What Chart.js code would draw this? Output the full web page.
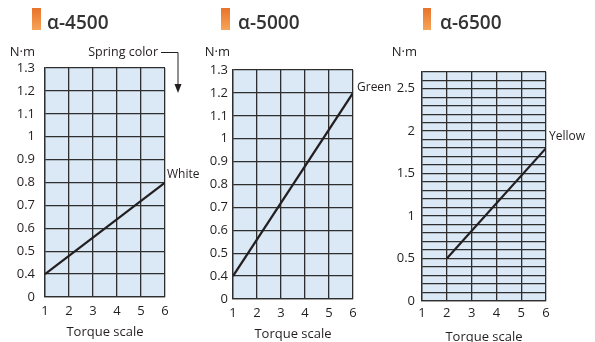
<!DOCTYPE html>
<html>
<head>
<meta charset="utf-8">
<script src="https://cdn.jsdelivr.net/npm/chart.js@4.4.0/dist/chart.umd.min.js"></script>
<style>
  body { margin: 0; background: #fff; width: 595px; height: 342px; position: relative; overflow: hidden; }
  canvas { position: absolute; top: 0; }
</style>
</head>
<body>
<canvas id="c1" width="210" height="342" style="left:0"></canvas>
<canvas id="c2" width="210" height="342" style="left:195px"></canvas>
<canvas id="c3" width="205" height="342" style="left:390px"></canvas>
<script>
// data
const torqueScale = [1, 2, 3, 4, 5, 6];
const brokenTicks = [0, 0.4, 0.5, 0.6, 0.7, 0.8, 0.9, 1, 1.1, 1.2, 1.3];
const a6500Ticks = [0, 0.5, 1, 1.5, 2, 2.5];

const a4500Scale = [1, 6];
const a4500Torque = [0.4, 0.8];
const a5000Scale = [1, 6];
const a5000Torque = [0.4, 1.2];
const a6500Scale = [2, 6];
const a6500Torque = [0.5, 1.8];

const FONT = "'Open Sans', sans-serif";
const INK = '#231f20';
const GRID = '#2e2e2e';
const FILL = '#dbe8f5';

// broken axis: 0 then 0.4 .. 1.3, every step the same height
function slot(v) {
  return v <= 0 ? 0 : 1 + Math.round((v - 0.4) * 100) / 10;
}

function points(xs, ys, broken) {
  return xs.map((x, i) => ({ x: x, y: broken ? slot(ys[i]) : ys[i] }));
}

// draws the panel background, header, unit and the spring label
const decor = {
  id: 'decor',
  beforeDraw(chart, args, o) {
    const a = chart.chartArea, ctx = chart.ctx;
    ctx.save();
    ctx.fillStyle = FILL;
    ctx.fillRect(a.left, a.top, a.right - a.left, a.bottom - a.top);
    ctx.restore();
  },
  afterDraw(chart, args, o) {
    const ctx = chart.ctx;
    ctx.save();
    // header
    const g = ctx.createLinearGradient(0, o.rect[1], 0, o.rect[1] + o.rect[3]);
    g.addColorStop(0, '#e8732b');
    g.addColorStop(1, '#f6a458');
    ctx.fillStyle = g;
    ctx.fillRect(o.rect[0], o.rect[1], o.rect[2], o.rect[3]);
    ctx.fillStyle = '#333';
    ctx.font = '600 19px ' + FONT;
    ctx.textBaseline = 'alphabetic';
    ctx.textAlign = 'left';
    ctx.fillText(o.title, o.titleX, 29);
    // unit
    ctx.font = '13px ' + FONT;
    ctx.fillStyle = INK;
    ctx.textAlign = 'right';
    ctx.textBaseline = 'middle';
    ctx.fillText('N\u00b7m', o.unitX, 52);
    // spring color at the end of the line
    const ds = chart.data.datasets[0].data;
    const last = ds[ds.length - 1];
    const px = chart.scales.x.getPixelForValue(last.x);
    const py = chart.scales.y.getPixelForValue(last.y);
    ctx.font = '12px ' + FONT;
    ctx.textAlign = 'left';
    ctx.fillText(o.spring, px + o.labelDx, py + o.labelDy);
    if (o.note) {
      ctx.font = '12.5px ' + FONT;
      ctx.textAlign = 'right';
      ctx.fillText('Spring color', 158, 52);
      ctx.strokeStyle = INK;
      ctx.lineWidth = 1;
      ctx.beginPath();
      ctx.moveTo(161, 52.5);
      ctx.lineTo(178, 52.5);
      ctx.lineTo(178, 86);
      ctx.stroke();
      ctx.beginPath();
      ctx.moveTo(174.5, 84);
      ctx.lineTo(181.5, 84);
      ctx.lineTo(178, 93);
      ctx.closePath();
      ctx.fill();
    }
    ctx.restore();
  }
};

function makeChart(id, cfg) {
  const yScale = cfg.broken ? {
    min: 0, max: 10,
    ticks: {
      stepSize: 1,
      callback: v => brokenTicks[v] !== undefined ? String(brokenTicks[v]) : ''
    }
  } : {
    min: 0, max: 2.7,
    ticks: {
      stepSize: 0.1,
      autoSkip: false,
      callback: v => a6500Ticks.some(t => Math.abs(t - v) < 1e-6) ? String(+v.toFixed(1)) : ''
    }
  };
  yScale.ticks.font = { family: FONT, size: 13 };
  yScale.ticks.color = INK;
  yScale.ticks.padding = cfg.yPad;
  yScale.grid = { color: GRID, lineWidth: 1.3, drawTicks: false };
  yScale.border = { color: GRID, width: 1.3 };
  yScale.afterFit = s => { s.width = cfg.yWidth; };

  return new Chart(document.getElementById(id), {
    type: 'line',
    data: {
      datasets: [{
        data: points(cfg.xs, cfg.ys, cfg.broken),
        borderColor: INK,
        borderWidth: 2.2,
        pointRadius: 0,
        fill: false
      }]
    },
    options: {
      responsive: false,
      animation: false,
      layout: { padding: { top: cfg.top, right: cfg.right, bottom: 0, left: 0 } },
      plugins: {
        legend: { display: false },
        tooltip: { enabled: false },
        decor: cfg.decor
      },
      scales: {
        x: {
          type: 'linear',
          min: torqueScale[0], max: torqueScale[torqueScale.length - 1],
          ticks: { stepSize: 1, font: { family: FONT, size: 13 }, color: INK, padding: cfg.xPad },
          grid: { color: GRID, lineWidth: 1.3, drawTicks: false },
          border: { color: GRID, width: 1.3 },
          title: {
            display: true, text: 'Torque scale', color: INK,
            font: { family: FONT, size: 13 },
            padding: { top: 0, bottom: cfg.titlePad }
          },
          afterFit: s => { s.height = cfg.xHeight; }
        },
        y: yScale
      }
    },
    plugins: [decor]
  });
}

makeChart('c1', {
  xs: a4500Scale, ys: a4500Torque, broken: true,
  yWidth: 45, right: 45, top: 68, xHeight: 45, yPad: 10, xPad: 6.5, titlePad: 2,
  decor: { title: '\u03b1-4500', rect: [32, 8, 9, 22], titleX: 47, unitX: 35,
           spring: 'White', labelDx: 2, labelDy: -8, note: true }
});

makeChart('c2', {
  xs: a5000Scale, ys: a5000Torque, broken: true,
  yWidth: 38, right: 52, top: 70, xHeight: 43, yPad: 5, xPad: 6.5, titlePad: 0,
  decor: { title: '\u03b1-5000', rect: [26, 8, 9, 22], titleX: 43, unitX: 35,
           spring: 'Green', labelDx: 4, labelDy: -5, note: false }
});

makeChart('c3', {
  xs: a6500Scale, ys: a6500Torque, broken: false,
  yWidth: 32, right: 49, top: 71.7, xHeight: 41, yPad: 7, xPad: 4, titlePad: -3,
  decor: { title: '\u03b1-6500', rect: [33, 8, 8, 22], titleX: 50, unitX: 27,
           spring: 'Yellow', labelDx: 3, labelDy: -12, note: false }
});
</script>
</body>
</html>
